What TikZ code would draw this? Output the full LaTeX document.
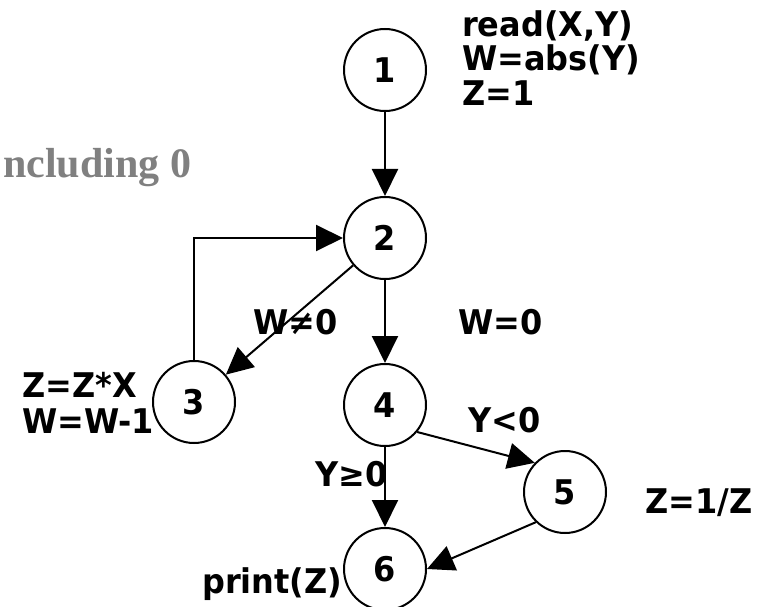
\documentclass[tikz,border=0pt]{standalone}
\usepackage{fontspec}
\setmainfont{DejaVu Sans}
\newfontfamily\cfont[FakeStretch=0.94]{DejaVu Sans}
\newfontfamily\serffont{Liberation Serif}
\usetikzlibrary{arrows.meta}
\newcommand\lblfont{\cfont\bfseries\fontsize{34}{38}\selectfont}
\begin{document}
\begin{tikzpicture}[x=1pt,y=-1pt,
  vert/.style={circle,draw,line width=2pt,minimum size=82pt,inner sep=0pt,font=\lblfont},
  lbl/.style={font=\lblfont,inner sep=0pt,anchor=base west},
  greytxt/.style={font=\serffont\bfseries\fontsize{42}{46}\selectfont,text={rgb,255:red,128;green,128;blue,128},inner sep=0pt,anchor=base west},
  conn/.style={line width=2pt,-{Triangle[length=27pt,width=26pt]}}]
\fill[white] (0,0) rectangle (774,607);
\useasboundingbox (0,0) rectangle (774,607);

\node[greytxt] (inc) at (3,178) {ncluding 0};

\node[vert] (n1) at (385,70) {1};
\node[vert] (n2) at (385,238) {2};
\node[vert] (n3) at (194,402) {3};
\node[vert] (n4) at (385,405) {4};
\node[vert] (n5) at (565,492) {5};
\node[vert] (n6) at (385,569) {6};

\node[lbl] (t1a) at (462,37) {read(X,Y)};
\node[lbl] (t1b) at (462,71) {W=abs(Y)};
\node[lbl] (t1c) at (462,106) {Z=1};
\node[lbl] (tne) at (253,334) {W≠0};
\node[lbl] (teq) at (458,334) {W=0};
\node[lbl] (t3a) at (22,397) {Z=Z*X};
\node[lbl] (t3b) at (22,433) {W=W-1};
\node[lbl] (tlt) at (468,432) {Y<0};
\node[lbl] (tge) at (315,486) {Y≥0};
\node[lbl] (t5) at (645,513) {Z=1/Z};
\node[lbl] (t6) at (202,593) {print(Z)};

\draw[conn] (n1) -- (n2);
\draw[conn] (n2) -- (n3);
\draw[conn] (n2) -- (n4);
\draw[conn] (n3.north) |- (n2.west);
\draw[conn] (n4.-40) -- (n5.136);
\draw[conn] (n4) -- (n6);
\draw[conn] (n5.226) -- (n6.east);
\end{tikzpicture}
\end{document}
